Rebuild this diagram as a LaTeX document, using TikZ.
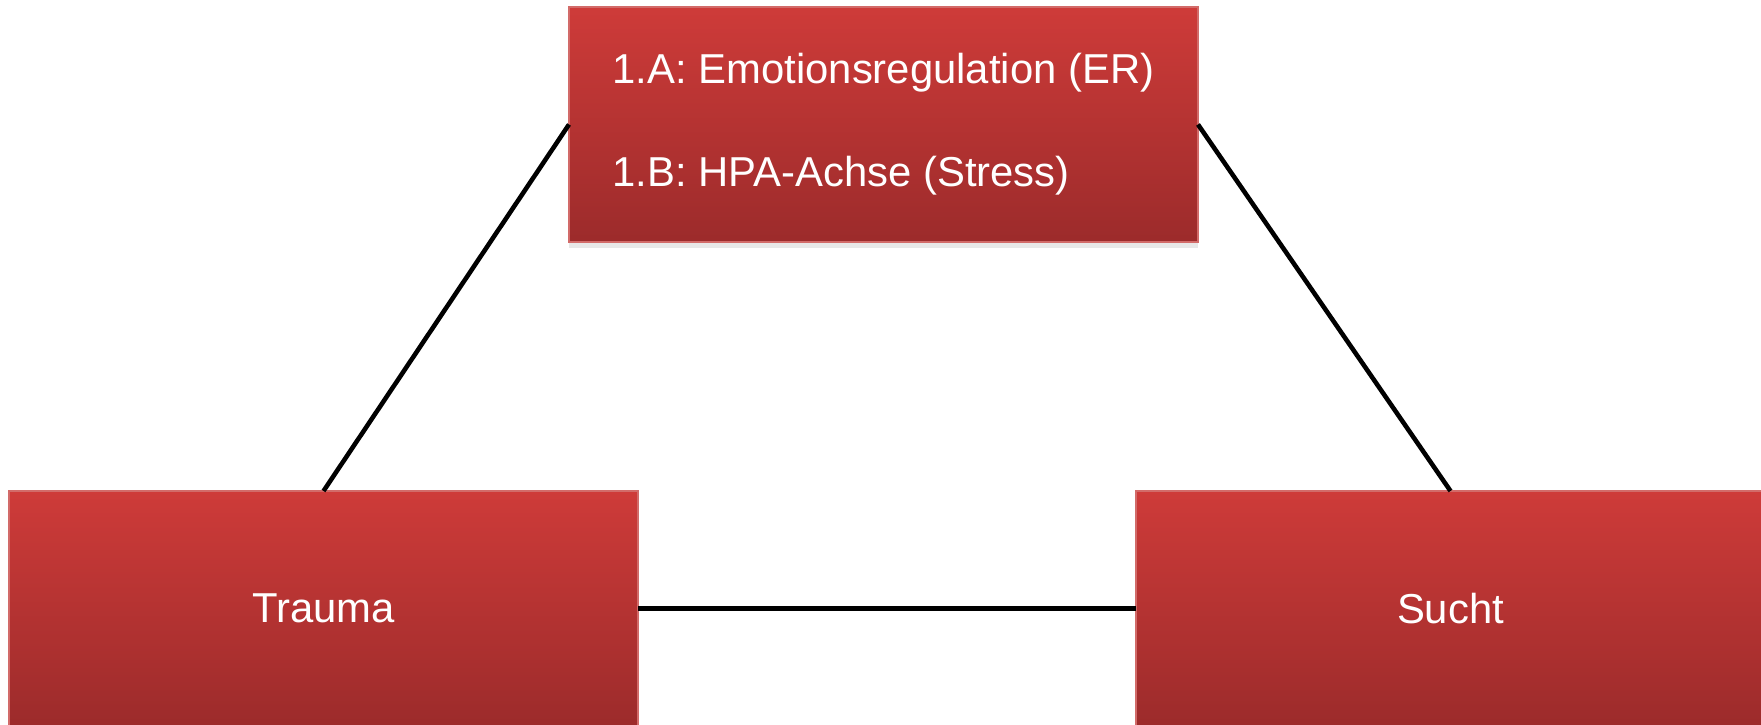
\documentclass[tikz,border=0pt]{standalone}
\usepackage{fontspec}
\setmainfont{Liberation Sans}
\usepackage{tikz}
\usetikzlibrary{shadows}
\definecolor{boxtop}{HTML}{CE3B39}
\definecolor{boxbot}{HTML}{9C2B2B}
\definecolor{boxrim}{HTML}{D26B69}

\begin{document}
\begin{tikzpicture}[
    x=0.1mm, y=-0.1mm,
    box/.style={rectangle, draw=boxrim, line width=0.4pt, top color=boxtop, bottom color=boxbot,
      minimum width=62.9mm, minimum height=23.5mm, inner sep=0pt, outer sep=0pt,
      text=white, font=\fontsize{11.9pt}{29.3pt}\selectfont,
      drop shadow={shadow xshift=0pt, shadow yshift=-0.6mm, opacity=0.18}},
    link/.style={line width=1.3pt, black}
  ]
    \useasboundingbox (0,0) rectangle (1761,725);

    \node[box, align=left] (mech) at (883.5,124.5) {1.A: Emotionsregulation (ER)\\1.B: HPA-Achse (Stress)};
    \node[box] (trauma) at (323.5,608.5) {Trauma};
    \node[box] (sucht) at (1450.5,608.5) {Sucht};

    \draw[link] (mech.west) -- (trauma.north);
    \draw[link] (mech.east) -- (sucht.north);
    \draw[link] (trauma.east) -- (sucht.west);

  \end{tikzpicture}
\end{document}
